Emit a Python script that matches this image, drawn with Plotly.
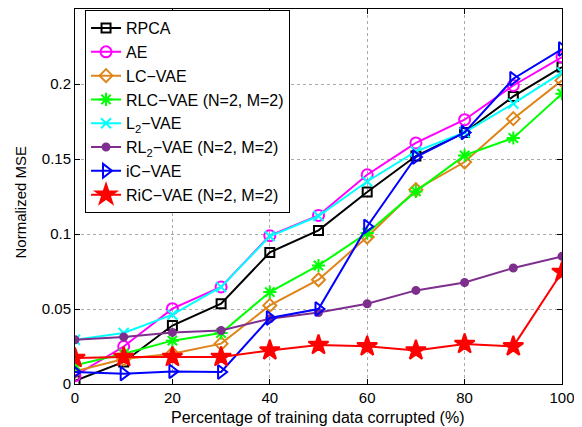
import plotly.graph_objects as go

x = [0, 10, 20, 30, 40, 50, 60, 70, 80, 90, 100]
rpca = [0.0022, 0.0147, 0.039, 0.0535, 0.0877, 0.1024, 0.128, 0.152, 0.1677, 0.1917, 0.2113]
ae = [0.0055, 0.025, 0.0502, 0.0647, 0.0989, 0.1124, 0.1395, 0.1607, 0.1762, 0.199, 0.218]
lc_vae = [0.0084, 0.0167, 0.0202, 0.0269, 0.0524, 0.0695, 0.098, 0.1295, 0.148, 0.1769, 0.2024]
rlc_vae = [0.0124, 0.0202, 0.0289, 0.034, 0.0613, 0.079, 0.1007, 0.1284, 0.1524, 0.164, 0.1935]
l2_vae = [0.0295, 0.034, 0.0462, 0.0647, 0.0985, 0.112, 0.135, 0.155, 0.1677, 0.1869, 0.2077]
rl2_vae = [0.0295, 0.0313, 0.0344, 0.0357, 0.0435, 0.0477, 0.0535, 0.0624, 0.0677, 0.0773, 0.0851]
ic_vae = [0.008, 0.0069, 0.0084, 0.008, 0.044, 0.05, 0.105, 0.1513, 0.1677, 0.2035, 0.2233]
ric_vae = [0.0173, 0.018, 0.018, 0.018, 0.0224, 0.026, 0.0251, 0.0224, 0.0267, 0.0251, 0.0747]

x_ticks = [0, 20, 40, 60, 80, 100]
y_ticks = [0, 0.05, 0.1, 0.15, 0.2, 0.25]
y_ticklabels = ["0", "0.05", "0.1", "0.15", "0.2", "0.25"]

names = ["RPCA", "AE", "LC−VAE", "RLC−VAE (N=2, M=2)", "L<sub>2</sub>−VAE",
         "RL<sub>2</sub>−VAE (N=2, M=2)", "iC−VAE", "RiC−VAE (N=2, M=2)"]
series = [rpca, ae, lc_vae, rlc_vae, l2_vae, rl2_vae, ic_vae, ric_vae]
colors = ["#000000", "#FF00FF", "#DE8519", "#00FF00", "#00FFFF", "#7E2F8E", "#0000FF", "#FF0000"]
symbols = ["square-open", "circle-open", "diamond-open", "asterisk-open", "x-thin-open",
           "circle", "triangle-right-open", "star"]
sizes = [9, 11, 10, 11, 10, 7, 12, 15]

fig = go.Figure()
for n, s, c, sym, sz in zip(names, series, colors, symbols, sizes):
    fig.add_trace(go.Scatter(
        x=x, y=s, name=n, mode="lines+markers",
        line=dict(color=c, width=2),
        marker=dict(symbol=sym, size=sz, color=c, line=dict(color=c, width=2)),
    ))

axis_common = dict(
    showline=True, linecolor="black", linewidth=1, mirror="ticks",
    ticks="inside", ticklen=5, tickcolor="black",
    showgrid=True, gridcolor="#AAAAAA", griddash="dot", gridwidth=1,
    zeroline=False, tickfont=dict(size=15, color="black"), automargin=False,
)

fig.update_xaxes(range=[0, 100], tickvals=x_ticks, **axis_common)
fig.update_yaxes(range=[0, 0.25], tickvals=y_ticks, ticktext=y_ticklabels, **axis_common)

fig.add_annotation(text="Percentage of training data corrupted (%)", xref="paper", yref="paper",
                   x=0.498, y=0, xanchor="center", yanchor="middle", yshift=-33,
                   showarrow=False, font=dict(size=16, color="black"))
fig.add_annotation(text="Normalized MSE", xref="paper", yref="paper", textangle=-90,
                   x=0, y=0.5, xanchor="center", yanchor="middle", xshift=-55, yshift=-6,
                   showarrow=False, font=dict(size=15, color="black"))

# the page body adds an 8px offset, so the figure is sized to fit the remaining window
fig.update_layout(
    width=574, height=419,
    margin=dict(l=67, r=20, t=1, b=43),
    paper_bgcolor="white", plot_bgcolor="white",
    font=dict(family="Liberation Sans, Arial, sans-serif", size=15, color="black"),
    showlegend=True,
    legend=dict(x=0.0206, y=0.997, xanchor="left", yanchor="top",
                bordercolor="black", borderwidth=1, bgcolor="white",
                font=dict(size=16), itemwidth=30),
)

fig.write_html("out.html")
